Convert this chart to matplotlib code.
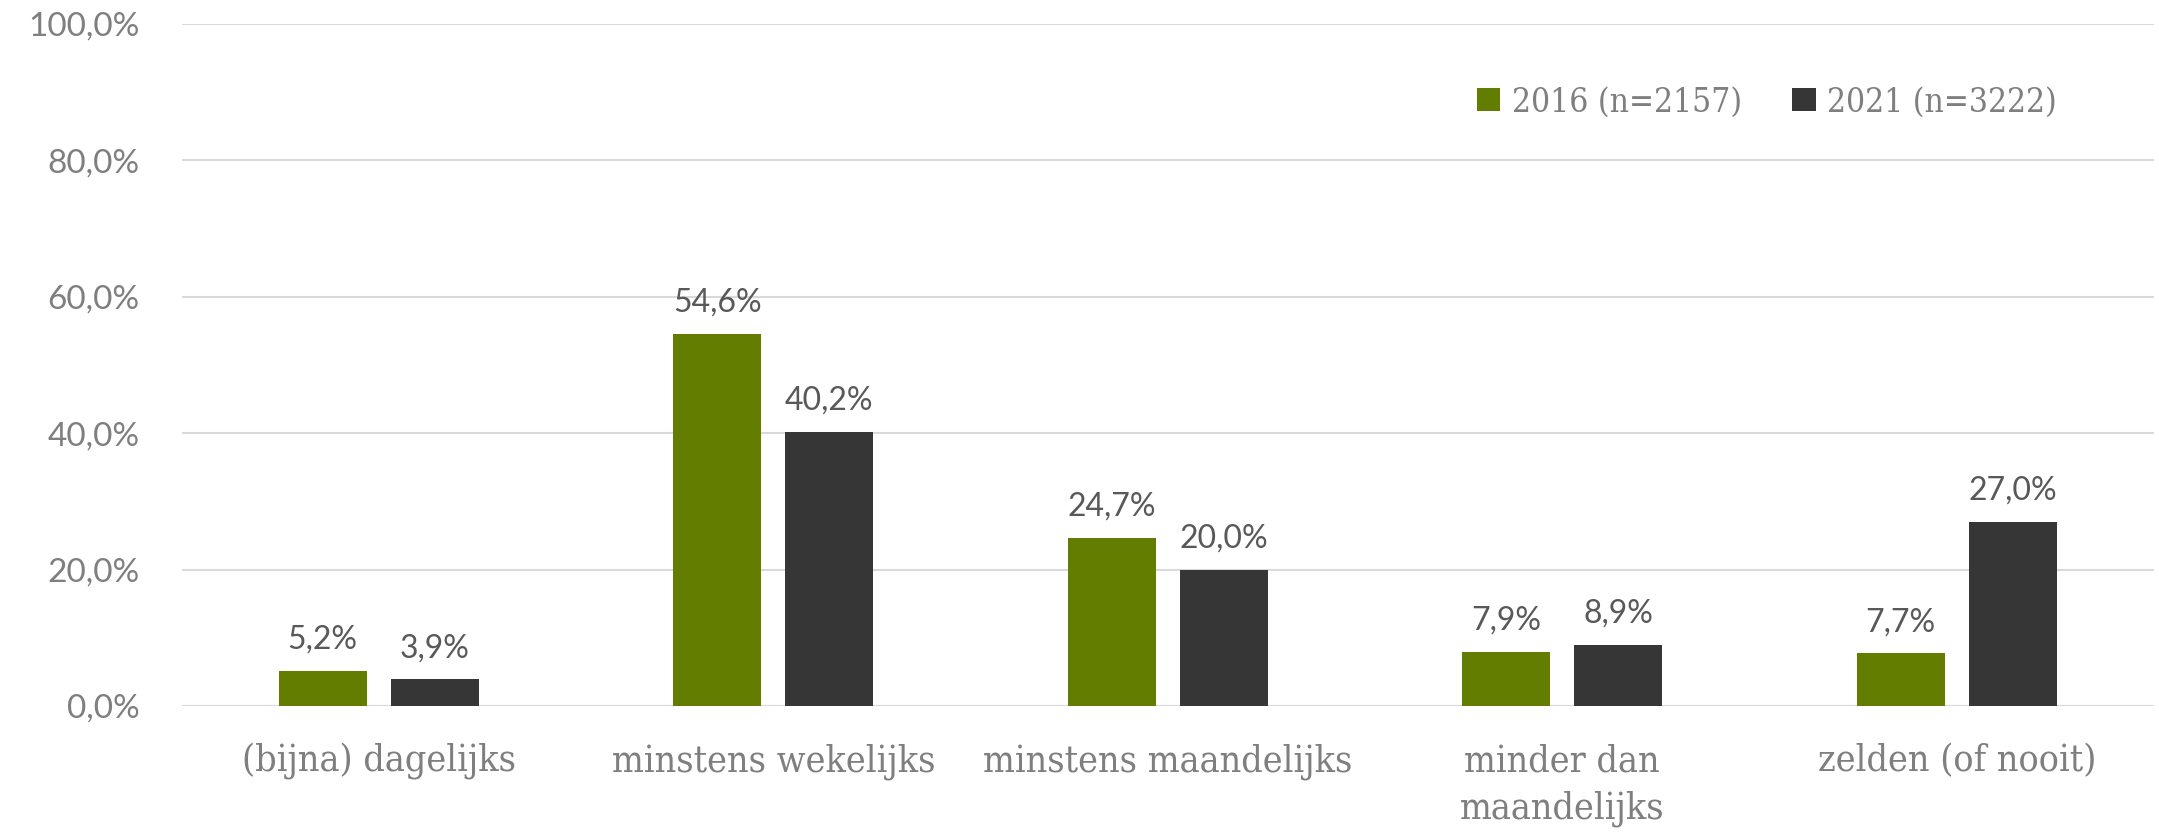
import numpy as np
import matplotlib
matplotlib.use('Agg')
import matplotlib.pyplot as plt
from matplotlib.patches import Patch

# data
categories = ['(bijna) dagelijks', 'minstens wekelijks', 'minstens maandelijks',
              'minder dan\nmaandelijks', 'zelden (of nooit)']
vals_2016 = [5.2, 54.6, 24.7, 7.9, 7.7]
vals_2021 = [3.9, 40.2, 20.0, 8.9, 27.0]
series_labels = ['2016 (n=2157)', '2021 (n=3222)']
yticks = [0, 20, 40, 60, 80, 100]

green = '#637D00'
dark = '#363636'
grey_txt = '#7F7F7F'
label_txt = '#595959'

fig = plt.figure(figsize=(21.59, 8.36), dpi=100)
ax = fig.add_axes([181.5 / 2159, 1 - 706 / 836, (2154 - 181.5) / 2159, (706 - 24) / 836])

x = np.arange(len(categories))
w = 0.223
off = 0.142
b1 = ax.bar(x - off, vals_2016, w, color=green, zorder=3)
b2 = ax.bar(x + off, vals_2021, w, color=dark, zorder=3)

for bars, vals in [(b1, vals_2016), (b2, vals_2021)]:
    for r, v in zip(bars, vals):
        ax.text(r.get_x() + r.get_width() / 2, v + 2.4, f'{v:.1f}%'.replace('.', ','),
                ha='center', va='bottom', fontsize=23, color=label_txt, family='Lato')

ax.set_xlim(-0.5, len(categories) - 0.5)
ax.set_ylim(0, 100)
ax.set_yticks(yticks)
ax.set_yticklabels([f'{t:.1f}%'.replace('.', ',') for t in yticks],
                   fontsize=24, color=grey_txt, family='Lato')
ax.set_xticks(x)
ax.set_xticklabels(categories, fontsize=27, color=grey_txt, family='DejaVu Serif',
                   linespacing=1.38, va='top', stretch='condensed')
ax.tick_params(axis='both', length=0)
ax.tick_params(axis='y', pad=30)
ax.tick_params(axis='x', pad=27)
ax.grid(axis='y', color='#D9D9D9', linewidth=1.5, zorder=0)
for s in ax.spines.values():
    s.set_visible(False)

handles = [Patch(facecolor=green, label=series_labels[0]),
           Patch(facecolor=dark, label=series_labels[1])]
leg = ax.legend(handles=handles, loc='center right', bbox_to_anchor=(0.966, 0.885),
                ncol=2, frameon=False, handlelength=0.7, handleheight=0.7,
                handletextpad=0.35, columnspacing=1.5,
                prop={'family': 'DejaVu Serif', 'size': 24, 'stretch': 'condensed'})
for t in leg.get_texts():
    t.set_color(grey_txt)

fig.savefig('out.png', dpi=100)
